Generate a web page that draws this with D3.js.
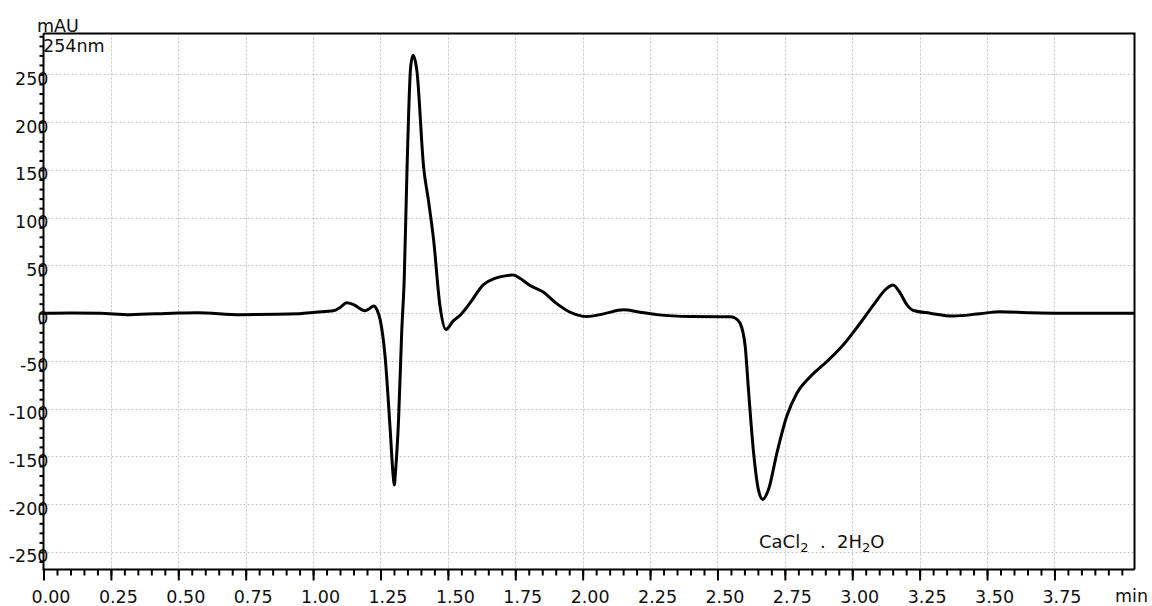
<!DOCTYPE html>
<html>
<head>
<meta charset="utf-8">
<script src="https://cdn.jsdelivr.net/npm/d3@7"></script>
<style>
    html, body { margin: 0; padding: 0; background: #fff; }
    svg { display: block; font-family: 'DejaVu Sans', sans-serif; }
</style>
</head>
<body>
<svg id="chart" width="1152" height="606"></svg>
<script>
// retention time (min) and absorbance (mAU)
const times = [
    0.00, 0.10, 0.21, 0.32, 0.48, 0.57, 0.73, 0.95, 1.01, 1.075,
    1.10, 1.125, 1.15, 1.193, 1.21, 1.224, 1.238, 1.249, 1.267, 1.286,
    1.297, 1.301, 1.306, 1.317, 1.329, 1.338, 1.348, 1.362, 1.371, 1.385,
    1.41, 1.428, 1.447, 1.471, 1.493, 1.52, 1.546, 1.583, 1.632, 1.67,
    1.693, 1.743, 1.77, 1.805, 1.855, 1.904, 1.954, 2.016, 2.077, 2.151,
    2.213, 2.275, 2.399, 2.547, 2.565, 2.584, 2.603, 2.615, 2.634, 2.652,
    2.668, 2.689, 2.72, 2.757, 2.794, 2.844, 2.906, 2.967, 3.029, 3.079,
    3.128, 3.151, 3.178, 3.203, 3.227, 3.289, 3.375, 3.474, 3.548, 3.66,
    3.78, 4.047
];
const absorbance = [
    0, 0.3, 0, -1.5, 0, 0.5, -1.5, -0.5, 1, 2.5,
    6, 11, 9, 2.5, 5, 7.5, 3, -7, -45, -122,
    -170, -180, -165, -112, -18, 35, 146, 258, 270, 254,
    153, 118, 77, 7, -17, -8, -2, 11, 30, 36,
    38, 40, 36, 29, 22, 10, 1, -3.5, -0.7, 3.5,
    1, -1.5, -3.5, -3.7, -5, -10.5, -35, -80, -146, -185,
    -195, -185, -147, -108, -84, -66.6, -50.6, -33, -10.5, 8.7,
    26, 29.6, 21, 8.7, 2.8, 0, -3, -0.5, 1.5, 0.5,
    0, 0
];
const xTicks = d3.range(0, 16).map((i) => i * 0.25);
const yTicks = [-250, -200, -150, -100, -50, 0, 50, 100, 150, 200, 250];

const LEFT = 43.5;
const RIGHT = 1134.5;
const TOP = 33.5;
const BOTTOM = 569.5;

const svg = d3.select('#chart');

const x = d3.scaleLinear()
    .domain([0, 4.047])
    .range([LEFT, RIGHT]);
const y = d3.scaleLinear()
    .domain([-268.4, 292.9])
    .range([BOTTOM, TOP]);

// dotted grid
const grid = svg.append('g')
    .attr('stroke', '#c4c4c4')
    .attr('stroke-width', 1)
    .attr('stroke-dasharray', '2,2');

grid.selectAll('.vgrid')
    .data(xTicks.filter((t) => t > 0))
    .enter()
    .append('line')
    .attr('x1', (d) => Math.round(x(d)) + 0.5)
    .attr('x2', (d) => Math.round(x(d)) + 0.5)
    .attr('y1', TOP)
    .attr('y2', BOTTOM);

grid.selectAll('.hgrid')
    .data(yTicks)
    .enter()
    .append('line')
    .attr('x1', LEFT)
    .attr('x2', RIGHT)
    .attr('y1', (d) => Math.round(y(d)) + 0.5)
    .attr('y2', (d) => Math.round(y(d)) + 0.5);

// frame top + right
svg.append('path')
    .attr('d', `M${LEFT},${TOP}H${RIGHT}V${BOTTOM}`)
    .attr('fill', 'none')
    .attr('stroke', '#000')
    .attr('stroke-width', 2);

// x axis: major every 0.25, minor every 0.05
const xMinor = d3.axisBottom(x)
    .tickValues(d3.range(0, 81).map((i) => i * 0.05))
    .tickSize(6)
    .tickFormat('');
const xMajor = d3.axisBottom(x)
    .tickValues(xTicks)
    .tickSize(11)
    .tickFormat('');

svg.append('g')
    .attr('transform', `translate(0,${BOTTOM})`)
    .call(xMinor)
    .call((g) => g.select('.domain').remove());
svg.append('g')
    .attr('transform', `translate(0,${BOTTOM})`)
    .call(xMajor)
    .call((g) => g.select('.domain').remove());

svg.selectAll('.xlabel')
    .data(xTicks)
    .enter()
    .append('text')
    .attr('x', (d) => x(d) + 7.5)
    .attr('y', 602.5)
    .attr('text-anchor', 'middle')
    .attr('font-size', 17.5)
    .attr('fill', '#111')
    .text((d) => d.toFixed(2));

svg.append('text')
    .attr('x', 1148)
    .attr('y', 602)
    .attr('text-anchor', 'end')
    .attr('font-size', 17.5)
    .attr('fill', '#111')
    .text('min');

// y axis: minor every 10
const yMinor = d3.axisLeft(y)
    .tickValues(d3.range(-260, 300, 10))
    .tickSize(4)
    .tickFormat('');

svg.append('g')
    .attr('transform', `translate(${LEFT},0)`)
    .call(yMinor)
    .call((g) => g.select('.domain').remove());

svg.selectAll('.ylabel')
    .data(yTicks)
    .enter()
    .append('text')
    .attr('x', 48.5)
    .attr('y', (d) => y(d) + 10.5)
    .attr('text-anchor', 'end')
    .attr('font-size', 17.5)
    .attr('fill', '#111')
    .text((d) => d);

svg.selectAll('.tick line')
    .attr('stroke', '#000')
    .attr('stroke-width', 2);

// axis lines
svg.append('path')
    .attr('d', `M${LEFT},${TOP}V${BOTTOM}H${RIGHT}`)
    .attr('fill', 'none')
    .attr('stroke', '#000')
    .attr('stroke-width', 2);

svg.append('text')
    .attr('x', 37)
    .attr('y', 31.5)
    .attr('font-size', 17.5)
    .attr('fill', '#111')
    .text('mAU');
svg.append('text')
    .attr('x', 43)
    .attr('y', 51.5)
    .attr('font-size', 17.5)
    .attr('fill', '#111')
    .text('254nm');

// trace
const line = d3.line()
    .x((d) => x(d[0]))
    .y((d) => y(d[1]))
    .curve(d3.curveMonotoneX);

svg.append('path')
    .datum(d3.zip(times, absorbance))
    .attr('d', line)
    .attr('fill', 'none')
    .attr('stroke', '#000')
    .attr('stroke-width', 3)
    .attr('stroke-linejoin', 'round');

// compound label
const label = svg.append('text')
    .attr('x', 759)
    .attr('y', 548)
    .attr('font-size', 18)
    .attr('fill', '#111')
    .style('white-space', 'pre');
label.append('tspan').text('CaCl');
label.append('tspan').attr('font-size', 13).attr('dy', 4).text('2');
label.append('tspan').attr('dy', -4).text('  .  2H');
label.append('tspan').attr('font-size', 13).attr('dy', 4).text('2');
label.append('tspan').attr('dy', -4).text('O');
</script>
</body>
</html>
